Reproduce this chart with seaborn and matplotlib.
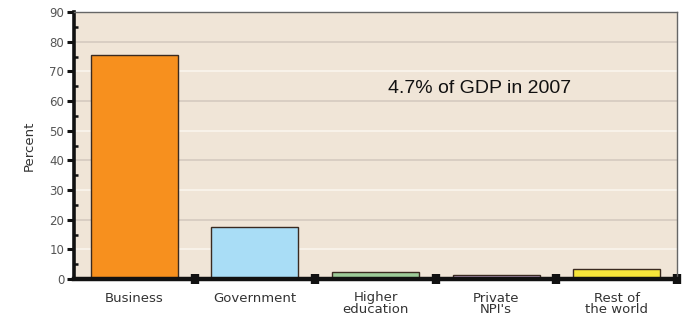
import matplotlib
matplotlib.use("Agg")
import matplotlib.pyplot as plt
from matplotlib.ticker import MultipleLocator, FixedLocator
import seaborn as sns
import pandas as pd

# R&D funding by source, share of total
categories = ["Business", "Government", "Higher\neducation", "Private\nNPI's", "Rest of\nthe world"]
percent = [75.5, 17.5, 2.2, 1.5, 3.3]
colors = ["#F7901E", "#A9DDF6", "#9CCB98", "#B99EC6", "#F6E53A"]
y_ticks = [0, 10, 20, 30, 40, 50, 60, 70, 80, 90]
note = "4.7% of GDP in 2007"

sns.set_theme(style="white")
plt.rcParams["font.family"] = ["DejaVu Sans"]

df = pd.DataFrame({"source": categories, "percent": percent})

fig = plt.figure(figsize=(6.82, 3.2), dpi=100)
ax = fig.add_axes([74 / 682, 1 - 279 / 320, 603 / 682, 267 / 320])
ax.set_facecolor("#F0E5D7")

sns.barplot(data=df, x="source", y="percent", hue="source", palette=colors,
            legend=False, width=0.72, edgecolor="#3a2a20", linewidth=1.0,
            saturation=1, ax=ax, zorder=3)

ax.set_xlim(-0.5, len(categories) - 0.5)
ax.set_ylim(0, 90)

# alternating grid lines: grey on even tens, white on odd tens
for v in y_ticks[1:-1]:
    c = "#D2C8BD" if (v // 10) % 2 == 0 else "#FBF6EF"
    ax.axhline(v, color=c, lw=1.1, zorder=1)

ax.yaxis.set_major_locator(FixedLocator(y_ticks))
ax.yaxis.set_minor_locator(MultipleLocator(5))
ax.tick_params(axis="y", which="major", direction="out", length=5, width=2.2,
               color="#111111", labelsize=8.5, labelcolor="#555555", pad=2,
               left=True)
ax.tick_params(axis="y", which="minor", direction="in", length=3, width=1.8,
               color="#111111", left=True)

# category separators drawn as square ticks on the base line
ax.xaxis.set_minor_locator(FixedLocator([i + 0.5 for i in range(len(categories))]))
ax.tick_params(axis="x", which="minor", direction="inout", length=7, width=6,
               color="#111111", bottom=True)
ax.tick_params(axis="x", which="major", length=0, labelsize=9.5,
               labelcolor="#333333", pad=9)
for lbl in ax.get_xticklabels():
    lbl.set_linespacing(0.85)
    lbl.set_verticalalignment("top")

ax.set_xlabel("")
ax.set_ylabel("Percent", fontsize=9.5, color="#333333", labelpad=10)

for side in ("left", "bottom"):
    ax.spines[side].set_color("#111111")
ax.spines["left"].set_linewidth(2.6)
ax.spines["bottom"].set_linewidth(3.2)
for side in ("top", "right"):
    ax.spines[side].set_color("#666666")
    ax.spines[side].set_linewidth(1.0)
for s in ax.spines.values():
    s.set_zorder(5)

ax.text(0.672, 0.715, note, transform=ax.transAxes, ha="center", va="center",
        fontsize=14, color="#111111", family=["Liberation Sans", "DejaVu Sans"])

fig.savefig("out.png", dpi=100, facecolor="white")
